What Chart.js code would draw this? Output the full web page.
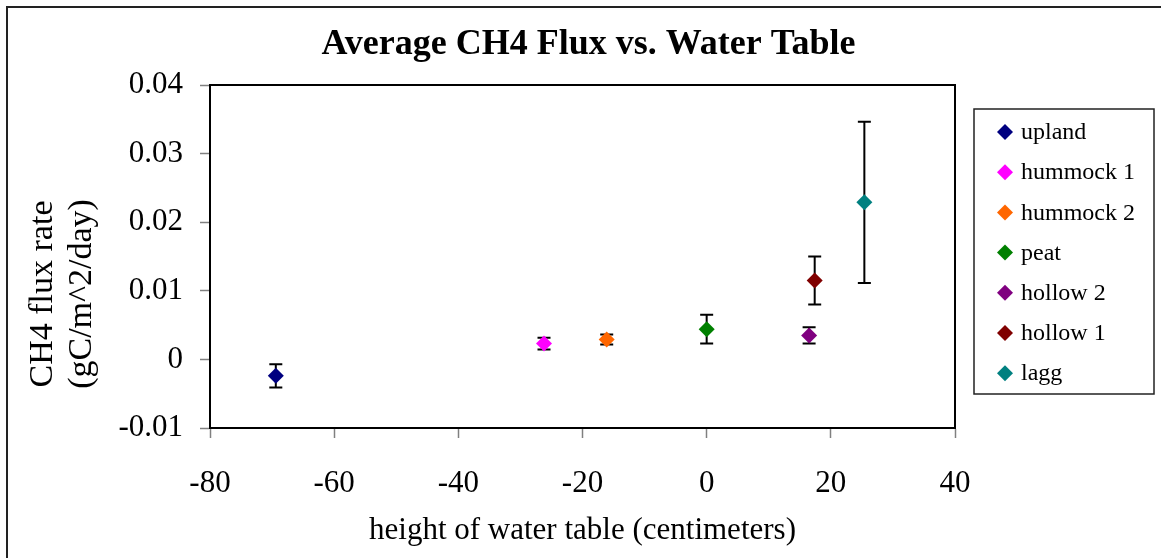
<!DOCTYPE html>
<html>
<head>
<meta charset="utf-8">
<title>Average CH4 Flux vs. Water Table</title>
<script src="https://cdn.jsdelivr.net/npm/chart.js@4.4.1/dist/chart.umd.min.js"></script>
<style>
    body { margin: 0; background: #fff; }
    canvas { display: block; }
</style>
</head>
<body>
<canvas id="fluxChart" width="1161" height="558"></canvas>
<script>
// Datos
const sites = ['upland', 'hummock 1', 'hummock 2', 'peat', 'hollow 2', 'hollow 1', 'lagg'];
const waterTable = [-69.4, -26.2, -16.1, 0, 16.5, 17.4, 25.4];
const fluxMean = [-0.0024, 0.0023, 0.0029, 0.0044, 0.0035, 0.0115, 0.0229];
const fluxError = [0.0017, 0.00085, 0.00073, 0.0021, 0.00117, 0.0035, 0.01175];
const siteColors = ['#000080', '#FF00FF', '#FF6600', '#008000', '#800080', '#800000', '#008080'];

const xTicks = [-80, -60, -40, -20, 0, 20, 40];
const yTicks = [-0.01, 0, 0.01, 0.02, 0.03, 0.04];
const yTickLabels = ['-0.01', '0', '0.01', '0.02', '0.03', '0.04'];
const yTitleLines = ['CH4 flux rate', '(gC/m^2/day)'];

const serif = '"Liberation Serif", "Times New Roman", serif';

Chart.defaults.color = '#000';
Chart.defaults.font.family = serif;

// Barras de error
const errorBars = {
    id: 'errorBars',
    beforeDatasetsDraw(chart) {
        const ctx = chart.ctx;
        const xs = chart.scales.x;
        const ys = chart.scales.y;
        ctx.save();
        ctx.strokeStyle = '#000';
        ctx.lineWidth = 2;
        for (let i = 0; i < sites.length; i++) {
            const px = xs.getPixelForValue(waterTable[i]);
            const top = ys.getPixelForValue(fluxMean[i] + fluxError[i]);
            const bottom = ys.getPixelForValue(fluxMean[i] - fluxError[i]);
            ctx.beginPath();
            ctx.moveTo(px, top);
            ctx.lineTo(px, bottom);
            ctx.moveTo(px - 6.5, top);
            ctx.lineTo(px + 6.5, top);
            ctx.moveTo(px - 6.5, bottom);
            ctx.lineTo(px + 6.5, bottom);
            ctx.stroke();
        }
        ctx.restore();
    }
};

// Marco del gráfico, borde del área, título del eje Y y leyenda
const frame = {
    id: 'frame',
    afterDraw(chart) {
        const ctx = chart.ctx;
        const area = chart.chartArea;
        ctx.save();

        ctx.strokeStyle = '#000';
        ctx.lineWidth = 2;
        ctx.beginPath();
        ctx.moveTo(area.left, area.top);
        ctx.lineTo(area.right, area.top);
        ctx.lineTo(area.right, area.bottom);
        ctx.stroke();

        ctx.strokeStyle = '#222';
        ctx.beginPath();
        ctx.moveTo(7, chart.height);
        ctx.lineTo(7, 7);
        ctx.lineTo(chart.width, 7);
        ctx.stroke();

        // Título del eje Y (dos líneas, girado)
        ctx.fillStyle = '#000';
        ctx.font = '34px ' + serif;
        ctx.textAlign = 'center';
        ctx.textBaseline = 'alphabetic';
        yTitleLines.forEach((line, i) => {
            ctx.save();
            ctx.translate(52 + i * 39, 294);
            ctx.rotate(-Math.PI / 2);
            ctx.fillText(line, 0, 0);
            ctx.restore();
        });

        // Leyenda
        const boxLeft = area.right + 19;
        const boxTop = 109;
        ctx.lineWidth = 1.5;
        ctx.strokeStyle = '#222';
        ctx.strokeRect(boxLeft, boxTop, 180, 285);

        ctx.font = '24px ' + serif;
        ctx.textBaseline = 'middle';
        ctx.textAlign = 'left';
        chart.data.datasets.forEach((ds, i) => {
            const cy = 132 + i * 40.2;
            const cx = boxLeft + 31;
            ctx.fillStyle = ds.backgroundColor;
            ctx.beginPath();
            ctx.moveTo(cx - 8, cy);
            ctx.lineTo(cx, cy - 8);
            ctx.lineTo(cx + 8, cy);
            ctx.lineTo(cx, cy + 8);
            ctx.closePath();
            ctx.fill();
            ctx.fillStyle = '#000';
            ctx.fillText(ds.label, boxLeft + 47, cy + 1);
        });
        ctx.restore();
    }
};

function buildDatasets() {
    return sites.map((name, i) => ({
        label: name,
        data: [{ x: waterTable[i], y: fluxMean[i] }],
        backgroundColor: siteColors[i],
        borderColor: siteColors[i],
        pointStyle: 'rectRot',
        pointRadius: 8,
        pointBorderWidth: 0
    }));
}

new Chart(document.getElementById('fluxChart'), {
    type: 'scatter',
    data: { datasets: buildDatasets() },
    options: {
        responsive: false,
        animation: false,
        devicePixelRatio: 1,
        layout: { padding: { left: 16, right: 0, top: 0, bottom: 0 } },
        plugins: {
            legend: { display: false },
            tooltip: { enabled: false },
            title: {
                display: true,
                text: 'Average CH4 Flux vs. Water Table',
                color: '#000',
                font: { family: serif, size: 36, weight: 'bold', lineHeight: 1.2 },
                padding: { top: 23, bottom: 18.8 }
            }
        },
        scales: {
            x: {
                type: 'linear',
                min: -80,
                max: 40,
                afterBuildTicks: (axis) => { axis.ticks = xTicks.map(v => ({ value: v })); },
                afterFit: (axis) => { axis.height = 130; },
                border: { color: '#000', width: 2 },
                grid: { drawOnChartArea: false, tickLength: 10, tickColor: '#808080', tickWidth: 1.5 },
                ticks: { color: '#000', padding: 27, maxRotation: 0, font: { size: 31 } },
                title: {
                    display: true,
                    text: 'height of water table (centimeters)',
                    color: '#000',
                    font: { size: 31, lineHeight: 1.2 },
                    padding: { top: 0, bottom: 9 }
                }
            },
            y: {
                type: 'linear',
                min: -0.01,
                max: 0.04,
                afterBuildTicks: (axis) => { axis.ticks = yTicks.map(v => ({ value: v })); },
                afterFit: (axis) => { axis.width = 194; },
                border: { color: '#000', width: 2 },
                grid: { drawOnChartArea: false, tickLength: 10, tickColor: '#808080', tickWidth: 1.5 },
                ticks: {
                    color: '#000',
                    padding: 17,
                    font: { size: 31 },
                    callback: (value) => yTickLabels[yTicks.indexOf(value)] ?? value
                }
            },
            // Eje vacío a la derecha que reserva el espacio de la leyenda
            legendSpace: {
                type: 'linear',
                position: 'right',
                display: true,
                grid: { display: false },
                border: { display: false },
                ticks: { display: false },
                afterFit: (axis) => { axis.width = 206; }
            }
        }
    },
    plugins: [errorBars, frame]
});
</script>
</body>
</html>
